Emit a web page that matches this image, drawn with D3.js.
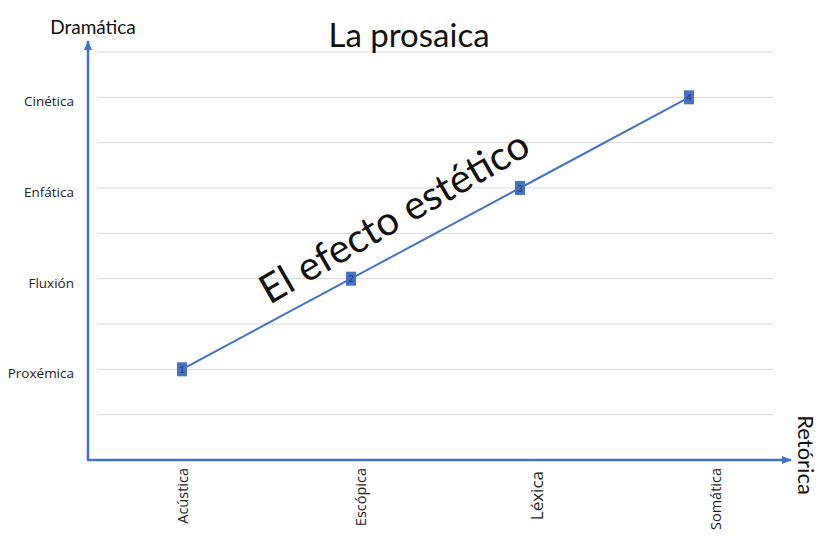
<!DOCTYPE html>
<html><head><meta charset="utf-8">
<script src="https://cdn.jsdelivr.net/npm/d3@7"></script>
<style>body{margin:0;background:#fff}svg{display:block}</style>
</head><body>
<script>
const title = "La prosaica";
const yTitle = "Dramática";
const xTitle = "Retórica";
const centerText = "El efecto estético";
const xCategories = ["Acústica", "Escópica", "Léxica", "Somática"];
const yCategories = ["Proxémica", "Fluxión", "Enfática", "Cinética"];
const xValues = [1, 2, 3, 4];
const yValues = [1, 2, 3, 4];
const pointLabels = ["1", "2", "3", "4"];
const gridValues = [0.5, 1, 1.5, 2, 2.5, 3, 3.5, 4, 4.5];

const W = 820, H = 536;
const blue = "#4472C4";
const font = "Lato, 'Open Sans', sans-serif";
const font2 = "'Open Sans', sans-serif";
const svg = d3.select("body").append("svg").attr("width", W).attr("height", H);

const x = d3.scaleLinear().domain([0.5, 4.5]).range([97.5, 773.5]);
const y = d3.scaleLinear().domain([0, 4.5]).range([460, 52]);
const xLab = d3.scalePoint().domain(xCategories).range([183, 716]);

// gridlines
svg.append("g").selectAll("line").data(gridValues).join("line")
  .attr("x1", x(0.5)).attr("x2", x(4.5))
  .attr("y1", d => y(d)).attr("y2", d => y(d))
  .attr("stroke", "#d9d9d9").attr("stroke-width", 1);

// arrow marker
const defs = svg.append("defs");
defs.append("marker").attr("id", "arr").attr("viewBox", "0 0 10 10")
  .attr("refX", 9).attr("refY", 5).attr("markerWidth", 4).attr("markerHeight", 4)
  .attr("orient", "auto")
  .append("path").attr("d", "M0,1 L10,5 L0,9 Z").attr("fill", blue);

// axes lines
svg.append("line").attr("x1", 88).attr("y1", y(0)).attr("x2", 88).attr("y2", 41)
  .attr("stroke", blue).attr("stroke-width", 2.5).attr("marker-end", "url(#arr)");
svg.append("line").attr("x1", 87).attr("y1", y(0)).attr("x2", 791).attr("y2", y(0))
  .attr("stroke", blue).attr("stroke-width", 2.5).attr("marker-end", "url(#arr)");

// y category labels
svg.append("g").selectAll("text").data(yCategories).join("text")
  .attr("x", 74).attr("y", (d, i) => y(i + 1) + 9)
  .attr("text-anchor", "end").attr("font-family", font2).attr("font-size", 13.5)
  .attr("fill", "#222").text(d => d);

// x category labels (rotated)
svg.append("g").selectAll("text").data(xCategories).join("text")
  .attr("transform", d => `translate(${xLab(d) + 5},${d === "Léxica" ? 471 : 468}) rotate(-90)`)
  .attr("text-anchor", "end").attr("font-family", font2)
  .attr("font-size", d => d === "Léxica" ? 17 : 14.5)
  .attr("fill", "#222").text(d => d);

// line
const pts = xValues.map((v, i) => [v, yValues[i]]);
svg.append("path").datum(pts)
  .attr("d", d3.line().x(d => x(d[0])).y(d => y(d[1])))
  .attr("fill", "none").attr("stroke", blue).attr("stroke-width", 2);

// markers
svg.append("g").selectAll("rect").data(pts).join("rect")
  .attr("x", d => x(d[0]) - 5).attr("y", d => y(d[1]) - 7)
  .attr("width", 10).attr("height", 14).attr("fill", blue);
svg.append("g").selectAll("text").data(pts).join("text")
  .attr("x", d => x(d[0])).attr("y", d => y(d[1]) + 3.5)
  .attr("text-anchor", "middle").attr("font-family", font).attr("font-size", 9)
  .attr("fill", "#333").text((d, i) => pointLabels[i]);

// title
svg.append("text").attr("x", 409).attr("y", 47).attr("text-anchor", "middle")
  .attr("font-family", font).attr("font-size", 33).attr("fill", "#111").text(title);

// y title
svg.append("text").attr("x", 93).attr("y", 34).attr("text-anchor", "middle")
  .attr("font-family", font).attr("font-size", 19).attr("fill", "#111").text(yTitle);

// x title rotated
svg.append("text").attr("transform", "translate(798,455) rotate(90)")
  .attr("text-anchor", "middle").attr("font-family", font).attr("font-size", 22)
  .attr("fill", "#111").text(xTitle);

// center text
svg.append("text").attr("transform", "translate(401,229) rotate(-30)")
  .attr("text-anchor", "middle").attr("font-family", font).attr("font-size", 40)
  .attr("fill", "#111").text(centerText);
</script>
</body></html>
